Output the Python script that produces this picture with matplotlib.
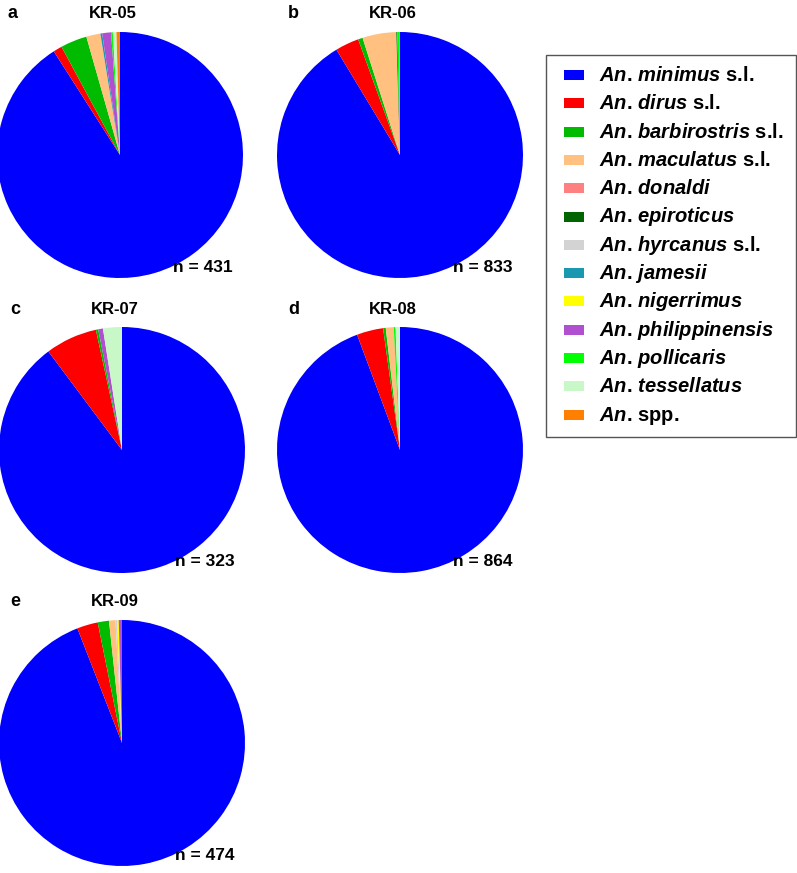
import matplotlib
matplotlib.use('Agg')
import matplotlib.pyplot as plt
from matplotlib.patches import Rectangle

plt.rcParams['font.family'] = 'Liberation Sans'
plt.rcParams['mathtext.fontset'] = 'custom'
plt.rcParams['mathtext.it'] = 'Liberation Sans:bold:italic'
plt.rcParams['mathtext.rm'] = 'Liberation Sans:bold'

# species, order as in legend / pies
species = [r'$An$. $minimus$ s.l.', r'$An$. $dirus$ s.l.', r'$An$. $barbirostris$ s.l.',
           r'$An$. $maculatus$ s.l.', r'$An$. $donaldi$', r'$An$. $epiroticus$',
           r'$An$. $hyrcanus$ s.l.', r'$An$. $jamesii$', r'$An$. $nigerrimus$',
           r'$An$. $philippinensis$', r'$An$. $pollicaris$', r'$An$. $tessellatus$',
           r'$An$. spp.']
colors = ['#0000FF', '#FF0000', '#00BB00', '#FFC080', '#FF8080', '#006400',
          '#D3D3D3', '#1A98B0', '#FFFF00', '#B050D0', '#00FF00', '#C8F8C8', '#FF8000']

# counts per site (same order as species)
kr05 = [392, 5, 15, 8, 0, 0, 0, 1, 0, 5, 1, 2, 2]
kr06 = [761, 26, 5, 37, 0, 1, 0, 0, 0, 0, 2, 0, 1]
kr07 = [290, 22, 1, 0, 0, 0, 0, 0, 0, 2, 0, 8, 0]
kr08 = [815, 30, 3, 9, 0, 0, 0, 0, 0, 0, 2, 5, 0]
kr09 = [446, 13, 7, 4, 0, 0, 1, 0, 1, 2, 0, 0, 0]

sites = ['KR-05', 'KR-06', 'KR-07', 'KR-08', 'KR-09']
letters = ['a', 'b', 'c', 'd', 'e']
counts = [kr05, kr06, kr07, kr08, kr09]

W, H = 797, 873
fig = plt.figure(figsize=(W / 100, H / 100), dpi=100)

# pie centres in pixels
centres = [(120, 155), (400, 155), (122, 450), (400, 450), (122, 743)]
r = 123

for i in range(5):
    cx, cy = centres[i]
    ax = fig.add_axes([(cx - r) / W, 1 - (cy + r) / H, 2 * r / W, 2 * r / H])
    vals = counts[i]
    ax.pie(vals, colors=colors, startangle=90, counterclock=False,
           wedgeprops=dict(linewidth=0))
    ax.set_xlim(-1, 1)
    ax.set_ylim(-1, 1)
    ax.axis('off')
    fig.text((cx - 7) / W, 1 - (cy - 141) / H, sites[i], ha='center', va='center',
             fontsize=12, fontweight='bold')
    fig.text((cx - 112) / W, 1 - (cy - 141) / H, letters[i], ha='left', va='center',
             fontsize=13, fontweight='bold')
    fig.text((cx + 53) / W, 1 - (cy + 112) / H, 'n = %d' % sum(vals), ha='left',
             va='center', fontsize=12.5, fontweight='bold')

# legend drawn by hand so the rows stay evenly spaced
lax = fig.add_axes([0, 0, 1, 1])
lax.set_xlim(0, W)
lax.set_ylim(H, 0)
lax.axis('off')
lax.add_patch(Rectangle((546, 55), 250, 382, facecolor='white',
                        edgecolor='#555555', linewidth=1.0))
for i in range(len(species)):
    y = 75 + 28.3 * i
    lax.add_patch(Rectangle((564, y - 5), 20, 10, facecolor=colors[i], edgecolor='none'))
    lax.text(599, y + 6, species[i], ha='left', va='baseline', fontsize=14.5,
             fontweight='bold')

fig.savefig('out.png', dpi=100)
